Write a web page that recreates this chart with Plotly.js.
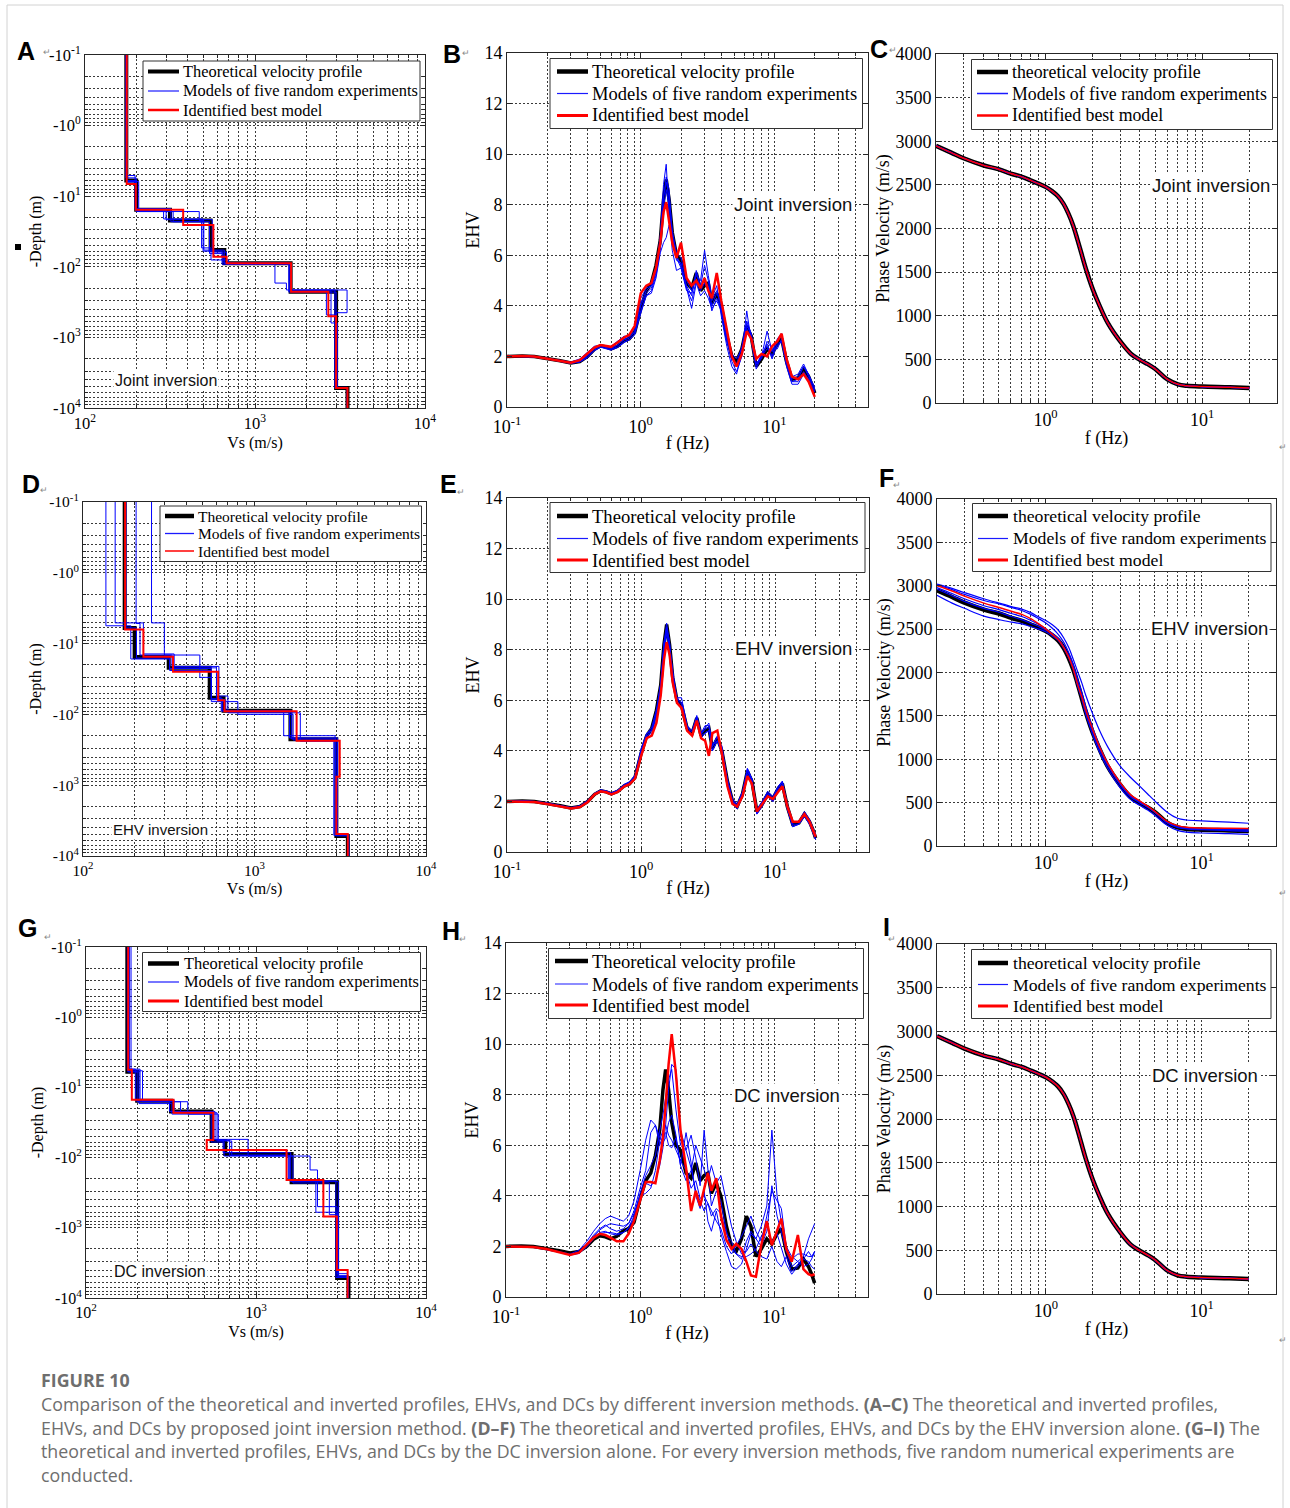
<!DOCTYPE html>
<html><head><meta charset="utf-8">
<script src="https://cdn.plot.ly/plotly-3.0.1.min.js"></script>
<style>html,body{margin:0;padding:0;background:#fff}#chart{width:1290px;height:1508px}</style>
</head><body><div id="chart"></div>
<script>
// ================= DATA =================
// Depth profiles: layer shear velocity (m/s) and interface depths (m)
const depthTop = 0.1, depthBottom = 10000;
const theoVs    = [175, 200, 316, 548, 660, 1620, 3000, 3500];
const theoDepth = [6, 15.5, 22, 58, 89, 225, 5200];

// (A) joint inversion
const jointBestVs    = [176, 199, 378, 569, 681, 1630, 2700, 3000, 3500];
const jointBestDepth = [6.7, 15.6, 25.6, 72, 89, 225, 500, 5200];
const jointModelVs = [
  [175, 197, 290, 495, 640, 1620, 3480, 3000, 3500],
  [176, 207, 330, 485, 551, 700, 1310, 1530, 2950, 3500],
  [174, 200, 470, 500, 660, 1640, 2630, 3000, 3500],
  [175, 201, 320, 540, 650, 1600, 2800, 3050, 3500],
  [176, 199, 300, 560, 680, 1580, 3000, 3480]
];
const jointModelDepth = [
  [5.1, 15.6, 21, 60, 92, 213, 447, 5200],
  [6.2, 16.5, 23, 54, 80, 92, 170, 213, 5200],
  [5.5, 16.5, 22, 58, 90, 225, 480, 5200],
  [6, 15, 23, 65, 88, 220, 625, 5200],
  [6.3, 15.8, 21.5, 62, 91, 228, 5100]
];
// (D) EHV inversion
const ehvBestVs    = [176, 225, 335, 614, 668, 1760, 3140, 3000, 3500];
const ehvBestDepth = [6.3, 15.3, 25, 63, 90, 236, 760, 4900];
const ehvModelVs = [
  [136, 190, 320, 560, 680, 1480, 2950, 3500],
  [154, 225, 340, 600, 640, 1600, 3050, 3500],
  [204, 215, 480, 560, 800, 1680, 2980, 3500],
  [251, 298, 330, 620, 700, 1850, 2900, 3550],
  [178, 205, 320, 560, 650, 1640, 2980, 3500]
];
const ehvModelDepth = [
  [5.6, 16.5, 24, 62, 92, 200, 5000],
  [5.1, 14, 22, 58, 90, 215, 4900],
  [5.2, 14.5, 30, 66, 100, 230, 4900],
  [5.1, 14.5, 21, 55, 95, 240, 5100],
  [6, 16, 22.5, 60, 88, 222, 5200]
];
// (G) DC inversion
const dcBestVs    = [177, 186, 327, 561, 513, 1513, 2490, 2990, 3460];
const dcBestDepth = [5.6, 15, 23, 56, 78, 209, 690, 4000];
const dcModelVs = [
  [180, 208, 330, 574, 640, 1600, 3050, 3500],
  [184, 215, 397, 560, 898, 2080, 2300, 3000, 3500],
  [176, 200, 360, 590, 720, 1550, 2250, 3000, 3450],
  [175, 195, 310, 545, 650, 1650, 2700, 3050, 3500],
  [178, 205, 320, 600, 700, 1580, 2950, 3480]
];
const dcModelDepth = [
  [5.5, 15, 22, 56, 85, 220, 5000],
  [5.8, 16, 24, 55, 95, 150, 500, 5000],
  [6, 16, 23, 58, 92, 210, 600, 4500],
  [5.5, 15.5, 22, 60, 95, 230, 650, 4800],
  [6, 17, 24, 57, 93, 215, 5100]
];

// EHV curves (frequency in Hz)
const ehvFreq = [0.10,0.13,0.16,0.20,0.25, 0.30,0.35,0.40,0.45,0.50, 0.55,0.60,0.67,0.75,0.82,
  0.90,1.00,1.10,1.20,1.30, 1.40,1.48,1.55,1.63,1.72, 1.85,2.00,2.20,2.40,2.60,
  2.80,3.00,3.20,3.40,3.70, 4.00,4.40,4.80,5.20,5.70, 6.20,6.70,7.30,8.00,8.80,
  9.60,10.5,11.3,12.3,13.5, 15.0,16.5,18.0,19.0,20.0];
const ehvTheo = [2.00,2.02,2.00,1.93,1.83, 1.74,1.80,2.00,2.28,2.42, 2.38,2.30,2.40,2.62,2.70,
  2.95,3.90,4.60,4.90,5.60, 6.60,8.20,9.00,8.20,6.90, 6.00,5.80,4.90,4.70,5.30,
  4.60,4.80,4.90,4.10,4.50, 4.00,2.80,2.00,1.80,2.30, 3.20,2.80,1.60,1.90,2.30,
  2.10,2.50,2.70,1.80,1.10, 1.15,1.50,1.20,0.90,0.55];
// (B) joint
const jointEhvBest = [2.00,2.02,2.00,1.92,1.82, 1.75,1.85,2.10,2.35,2.45, 2.40,2.38,2.55,2.75,2.85,
  3.20,4.50,4.80,4.90,5.50, 6.50,7.70,8.10,7.40,6.50, 5.90,6.50,5.10,4.80,5.00,
  4.70,5.10,4.60,4.30,5.30, 4.20,3.00,2.00,1.60,2.10, 3.00,2.70,1.90,2.10,2.00,
  2.40,2.60,2.90,1.90,1.20, 1.10,1.30,1.00,0.70,0.40];
const jointEhvModels = [
  [2.00,2.02,2.00,1.93,1.84, 1.78,1.90,2.15,2.40,2.45, 2.35,2.40,2.60,2.80,2.80, 3.10,4.30,4.70,4.80,5.40, 6.80,8.80,9.60,7.60,6.20, 5.40,5.50,4.60,4.50,5.20, 5.00,6.20,5.20,4.30,4.80, 3.60,2.40,1.60,1.30,2.10, 3.80,2.60,1.50,2.00,3.00, 2.20,2.40,2.60,1.70,1.00, 1.00,1.40,1.10,0.80,0.60],
  [2.00,2.00,1.98,1.90,1.80, 1.72,1.78,1.98,2.25,2.38, 2.30,2.25,2.35,2.55,2.65, 2.85,3.70,4.40,4.50,5.10, 6.10,6.50,6.70,7.20,6.80, 6.00,5.60,4.70,3.90,4.90, 4.40,4.60,4.30,3.90,4.20, 3.80,2.60,1.90,1.70,2.40, 3.40,2.90,1.70,2.00,2.50, 2.00,2.70,2.90,1.90,1.20, 1.30,1.70,1.30,1.00,0.70],
  [2.00,2.02,2.00,1.93,1.83, 1.74,1.82,2.05,2.30,2.42, 2.36,2.30,2.45,2.65,2.72, 2.95,4.00,4.50,4.70,5.30, 6.40,8.30,9.10,8.60,6.80, 5.80,5.70,4.80,4.40,5.40, 4.80,5.60,5.00,4.00,4.50, 4.10,2.70,1.80,1.40,2.00, 3.10,2.70,1.70,1.90,2.60, 2.30,2.30,2.70,1.80,1.00, 1.10,1.60,1.20,0.90,0.60],
  [2.00,2.00,1.98,1.91,1.81, 1.73,1.78,1.95,2.22,2.36, 2.32,2.28,2.38,2.58,2.66, 2.88,3.80,4.40,4.60,5.20, 6.20,7.90,8.60,7.90,6.70, 5.90,5.50,4.70,4.20,5.00, 4.60,4.90,4.60,3.80,4.30, 3.90,2.70,2.00,1.60,2.20, 3.30,2.80,1.60,2.10,2.40, 1.90,2.50,2.60,1.60,0.90, 0.90,1.30,1.10,0.80,0.70],
  [2.00,2.02,2.00,1.92,1.82, 1.74,1.80,2.02,2.30,2.43, 2.40,2.33,2.45,2.68,2.78, 3.00,4.10,4.60,4.80,5.50, 6.60,8.30,8.90,8.30,7.00, 6.10,5.90,5.00,4.60,5.30, 4.70,4.90,4.80,4.20,4.60, 4.00,2.90,2.10,1.90,2.30, 3.20,2.90,1.70,2.00,2.30, 2.20,2.60,2.80,1.90,1.10, 1.20,1.60,1.30,1.00,0.80]
];
// (E) EHV inversion
const ehvEhvBest = [2.00,2.00,1.98,1.90,1.80, 1.72,1.78,1.98,2.28,2.40, 2.36,2.28,2.38,2.60,2.68,
  2.90,3.80,4.50,4.60,5.10, 6.20,7.60,8.30,7.80,6.70, 5.90,5.70,4.80,4.60,5.20,
  4.50,4.40,3.80,4.70,4.80, 3.90,2.60,1.90,1.80,2.20, 3.00,2.70,1.60,1.90,2.20,
  2.10,2.40,2.60,1.80,1.20, 1.20,1.50,1.20,0.90,0.60];
const ehvEhvModels = [
  [2.00,2.02,2.00,1.93,1.83, 1.74,1.82,2.03,2.32,2.45, 2.40,2.33,2.45,2.68,2.78, 3.00,4.00,4.60,4.70,5.40, 6.60,8.10,8.90,8.30,7.00, 6.10,5.90,5.00,4.60,5.30, 4.70,4.90,5.10,4.20,4.40, 4.20,2.80,2.00,1.80,2.30, 3.30,2.90,1.60,2.00,2.30, 2.10,2.50,2.80,1.80,1.10, 1.10,1.50,1.20,0.90,0.60],
  [2.00,2.00,1.99,1.92,1.82, 1.73,1.80,2.00,2.28,2.40, 2.36,2.28,2.40,2.60,2.70, 2.95,3.90,4.50,4.60,5.20, 6.40,8.00,8.60,8.10,7.20, 6.00,5.70,4.80,4.60,5.20, 4.60,4.70,4.80,4.00,4.40, 4.00,2.70,1.90,1.80,2.30, 3.20,2.80,1.50,1.90,2.20, 2.00,2.40,2.70,1.70,1.00, 1.10,1.40,1.10,0.80,0.50],
  [2.00,2.02,2.00,1.94,1.84, 1.76,1.83,2.05,2.33,2.46, 2.42,2.34,2.45,2.66,2.76, 3.05,4.10,4.70,4.80,5.50, 6.70,8.30,8.80,8.00,6.80, 6.10,6.10,5.00,4.80,5.40, 4.70,5.00,5.00,4.20,4.60, 4.10,2.90,2.10,1.90,2.40, 3.30,2.90,1.70,2.00,2.40, 2.20,2.60,2.80,1.90,1.20, 1.20,1.60,1.30,1.00,0.70],
  [2.00,2.01,1.99,1.92,1.82, 1.73,1.79,1.99,2.26,2.40, 2.37,2.29,2.38,2.60,2.69, 2.92,3.85,4.55,4.85,5.55, 6.50,8.10,8.70,8.10,6.80, 5.90,5.70,4.80,4.60,5.20, 4.50,4.70,4.80,4.00,4.40, 3.90,2.70,1.90,1.70,2.20, 3.10,2.70,1.50,1.80,2.20, 2.00,2.40,2.60,1.70,1.00, 1.10,1.40,1.10,0.80,0.50],
  [2.00,2.02,2.00,1.93,1.83, 1.75,1.81,2.01,2.29,2.43, 2.39,2.31,2.41,2.63,2.71, 2.97,3.95,4.65,4.95,5.65, 6.65,8.25,9.05,8.25,6.95, 6.05,5.85,4.95,4.75,5.35, 4.65,4.85,4.95,4.15,4.55, 4.05,2.85,2.05,1.85,2.35, 3.25,2.85,1.65,1.95,2.35, 2.15,2.55,2.75,1.85,1.15, 1.20,1.55,1.25,0.95,0.60]
];
// (H) DC inversion
const dcEhvBest = [2.00,2.00,1.98,1.90,1.78, 1.66,1.75,2.05,2.35,2.50, 2.45,2.35,2.20,2.20,2.50,
  3.00,3.80,4.55,4.55,4.50, 5.40,6.30,7.60,9.20,10.40, 8.80,6.60,5.10,3.40,4.20,
  3.60,4.30,4.90,4.20,4.70, 3.20,2.25,1.90,2.10,1.90, 1.40,0.85,0.80,2.05,3.00,
  2.05,2.60,3.10,1.90,1.40, 2.45,1.10,0.90,0.85,0.90];
const dcEhvModels = [
  [2.00,2.00,1.98,1.90,1.80, 1.70,1.85,2.20,2.60,2.90, 3.10,3.20,3.10,3.00,3.20, 3.80,5.00,6.20,7.00,6.80, 6.00,6.40,6.50,6.00,5.90, 6.30,5.20,6.50,5.30,4.00, 3.50,4.20,3.00,2.60,3.40, 2.50,1.80,1.20,1.10,1.30, 1.90,2.50,2.30,2.80,3.60, 6.60,4.00,3.00,1.80,1.20, 1.40,1.60,2.30,2.60,2.90],
  [2.00,2.00,1.97,1.88,1.77, 1.66,1.72,1.98,2.30,2.50, 2.55,2.55,2.50,2.55,2.70, 3.10,3.90,4.50,4.40,4.60, 5.20,5.90,6.80,8.20,9.20, 9.00,6.60,5.80,6.40,5.50, 4.40,6.60,5.00,3.60,4.20, 3.80,2.60,1.90,1.70,1.60, 1.60,1.70,1.90,2.40,2.80, 2.20,2.50,1.90,1.30,0.90, 1.20,1.50,1.40,1.20,1.10],
  [2.00,2.00,1.98,1.90,1.79, 1.68,1.76,2.05,2.40,2.65, 2.80,2.90,2.85,2.80,2.90, 3.30,4.00,4.10,4.30,5.00, 6.20,6.60,6.80,6.40,6.20, 5.80,5.40,5.00,4.30,4.60, 3.90,4.00,3.70,3.20,3.50, 3.30,2.50,2.20,1.70,1.50, 2.20,2.60,2.30,2.00,2.60, 4.40,3.20,2.50,1.80,1.50, 1.70,1.70,1.60,1.60,1.80],
  [2.00,2.00,1.98,1.90,1.78, 1.68,1.78,2.10,2.45,2.70, 2.85,2.70,2.60,2.70,2.90, 3.40,4.30,5.00,6.50,6.80, 6.30,6.10,6.30,6.90,7.20, 6.40,5.20,4.60,5.00,6.00, 5.50,5.00,4.60,5.20,4.50, 4.80,3.80,2.80,2.20,1.70, 1.80,2.10,1.80,1.60,1.50, 2.00,1.40,1.20,1.60,1.00, 1.30,1.50,1.80,1.60,1.70],
  [2.00,2.00,1.97,1.89,1.77, 1.67,1.74,2.02,2.35,2.55, 2.60,2.50,2.45,2.55,2.75, 3.20,4.10,4.80,5.20,5.60, 6.60,7.20,7.90,8.60,9.00, 7.40,6.00,5.80,5.10,4.20, 3.80,3.40,3.70,3.40,3.00, 2.70,2.00,1.70,2.00,2.40, 2.80,3.20,2.60,2.20,3.20, 4.20,3.80,3.50,2.00,1.60, 1.40,1.20,1.30,1.50,1.80]
];

// Dispersion curves (phase velocity, m/s)
const dcFreq = [0.2,0.25,0.3,0.4,0.5, 0.6,0.7,0.8,0.9,1.0, 1.1,1.2,1.3,1.4,1.5, 1.6,1.7,1.8,2.0,2.2,
  2.5,3.0,3.5,4.0,4.5, 5.0,6.0,7.0,8.0,10, 15,20];
const dcTheo = [2947,2870,2805,2725,2680, 2630,2595,2553,2515,2477, 2428,2370,2285,2170,2035,
  1870,1705,1550,1305,1125, 915,705,565,495,445, 392,270,214,197,188, 180,172];
// (C) joint and (I) DC inversion: all inverted curves coincide with the theoretical one
const jointDcBest = dcTheo;
const jointDcModels = [dcTheo, dcTheo, dcTheo, dcTheo, dcTheo];
const dcDcBest = dcTheo;
const dcDcModels = [dcTheo, dcTheo, dcTheo, dcTheo, dcTheo];
// (F) EHV inversion
const ehvDcBest = [3000,2940,2880,2800,2750, 2705,2670,2620,2560,2500, 2440,2380,2290,2180,2040,
  1860,1720,1570,1340,1150, 950,730,590,520,460, 400,285,235,215,208, 205,203];
const ehvDcModels = [
  [3020,2970,2920,2850,2800, 2760,2730,2690,2640,2600, 2550,2490,2400,2290,2150, 2010,1880,1740,1520,1340, 1140,920,790,690,600, 520,390,320,300,290, 275,262],
  [3010,2955,2900,2830,2790, 2750,2715,2670,2620,2570, 2510,2440,2350,2230,2090, 1920,1770,1610,1360,1160, 950,720,580,510,450, 390,270,220,205,195, 188,182],
  [2890,2800,2740,2650,2610, 2580,2560,2530,2500,2470, 2420,2370,2280,2170,2030, 1840,1690,1520,1280,1090, 890,670,535,470,415, 355,240,180,160,150, 142,135],
  [2960,2885,2820,2740,2695, 2645,2610,2568,2530,2490, 2440,2388,2295,2180,2050, 1860,1715,1555,1315,1125, 925,705,565,500,445, 390,265,214,198,188, 178,168],
  [2980,2910,2850,2770,2725, 2680,2645,2600,2555,2505, 2450,2395,2300,2190,2060, 1875,1730,1575,1330,1140, 935,712,570,505,450, 395,270,220,205,195, 190,185]
];

// Legend labels
const legendTheoUpper = 'Theoretical velocity profile';
const legendTheoLower = 'theoretical velocity profile';
const legendModels = 'Models of five random experiments';
const legendBest = 'Identified best model';

// ================= LAYOUT / DRAWING =================
const W = 1290, H = 1508;
const px = x => x / W;
const py = y => 1 - y / H;
const SERIF = 'Liberation Serif, Times New Roman, serif';
const SANS = 'Liberation Sans, Arial, sans-serif';

function stepXY(vs, depth) {
  return { x: vs.concat([vs[vs.length - 1]]), y: [depthTop].concat(depth, [depthBottom]) };
}
function decadeMinors(lo, hi) { // 2..9 x 10^k grid positions
  const out = [];
  for (let k = lo; k < hi; k++) for (let m = 2; m <= 9; m++) out.push(+(m * Math.pow(10, k)).toPrecision(3));
  return out;
}

// box: plot area [x0,x1,y0,y1]; lg: legend {box, rows, line, tx, fs, w}
const panelCfg = [
  {kind:'prof', box:[85,425,55,408], tfs:16.5, letter:'A', lxy:[26,51], tag:'Joint inversion', txy:[166,380], tfont:16,
   lg:{box:[143,420,61,121], rows:[71.5,91,110], line:[148,179], tx:181, fs:16.4, w:[4,1.2,2.5]}},
  {kind:'ehv', box:[507,868,53,407], tfs:18, letter:'B', lxy:[452,54], tag:'Joint inversion', txy:[793,204], tfont:18.5,
   lg:{box:[550,862.5,58.5,128.5], rows:[71.5,93.5,115.5], line:[557,588], tx:590, fs:18.5, w:[4.5,1.2,3]}},
  {kind:'dc', box:[936,1277,54,403], tfs:18, letter:'C', lxy:[879,49], tag:'Joint inversion', txy:[1211,185], tfont:18.5,
   lg:{box:[971.5,1272.5,59.5,129.5], rows:[72,93.5,115.5], line:[977,1008], tx:1010, fs:17.8, w:[4.5,1.5,2.5]}},
  {kind:'prof', box:[83,426,502,856], tfs:15.5, letter:'D', lxy:[31,484], tag:'EHV inversion', txy:[160,829], tfont:15,
   lg:{box:[160,421.5,506,561.5], rows:[516,533.5,551], line:[165,194], tx:196, fs:15.5, w:[4.5,1.3,1.5]}},
  {kind:'ehv', box:[507,869,498,852], tfs:18, letter:'E', lxy:[448,484], tag:'EHV inversion', txy:[793,649], tfont:18.5,
   lg:{box:[550,865,502.5,572.5], rows:[516,538.5,560], line:[557,588], tx:590, fs:18.6, w:[4.5,1.2,3]}},
  {kind:'dc', box:[937,1276,499,846], tfs:18, letter:'F', lxy:[887,478], tag:'EHV inversion', txy:[1209,628], tfont:18.5,
   lg:{box:[972.5,1271,503.5,571.5], rows:[516,538.5,560], line:[978,1008], tx:1010.5, fs:17.7, w:[4.5,1.2,3]}},
  {kind:'prof', box:[86,426,947,1298], tfs:16, letter:'G', lxy:[27,928], tag:'DC inversion', txy:[160,1271], tfont:16,
   lg:{box:[142.5,420.5,952.5,1011.5], rows:[963.5,982,1001], line:[148,179], tx:181.5, fs:16.4, w:[4.5,1.2,3]}},
  {kind:'ehv', box:[506,868,943,1297], tfs:18, letter:'H', lxy:[451,931], tag:'DC inversion', txy:[787,1095], tfont:18.5,
   lg:{box:[548.5,863.5,948.5,1018.5], rows:[961,984,1005], line:[555,588], tx:589.5, fs:18.6, w:[4.5,1.2,3]}},
  {kind:'dc', box:[937,1276,944,1294], tfs:18, letter:'I', lxy:[886,927], tag:'DC inversion', txy:[1205,1075], tfont:18.5,
   lg:{box:[971.5,1271,949.5,1018.5], rows:[963,984.5,1006], line:[978,1008], tx:1010.5, fs:17.7, w:[4.5,1.2,3]}}
];

const panelData = [
  {theo: stepXY(theoVs, theoDepth), models: jointModelVs.map((v,k)=>stepXY(v, jointModelDepth[k])), best: stepXY(jointBestVs, jointBestDepth)},
  {theo: {x:ehvFreq, y:ehvTheo}, models: jointEhvModels.map(m=>({x:ehvFreq, y:m})), best: {x:ehvFreq, y:jointEhvBest}},
  {theo: {x:dcFreq, y:dcTheo}, models: jointDcModels.map(m=>({x:dcFreq, y:m})), best: {x:dcFreq, y:jointDcBest}},
  {theo: stepXY(theoVs, theoDepth), models: ehvModelVs.map((v,k)=>stepXY(v, ehvModelDepth[k])), best: stepXY(ehvBestVs, ehvBestDepth)},
  {theo: {x:ehvFreq, y:ehvTheo}, models: ehvEhvModels.map(m=>({x:ehvFreq, y:m})), best: {x:ehvFreq, y:ehvEhvBest}},
  {theo: {x:dcFreq, y:dcTheo}, models: ehvDcModels.map(m=>({x:dcFreq, y:m})), best: {x:dcFreq, y:ehvDcBest}},
  {theo: stepXY(theoVs, theoDepth), models: dcModelVs.map((v,k)=>stepXY(v, dcModelDepth[k])), best: stepXY(dcBestVs, dcBestDepth)},
  {theo: {x:ehvFreq, y:ehvTheo}, models: dcEhvModels.map(m=>({x:ehvFreq, y:m})), best: {x:ehvFreq, y:dcEhvBest}},
  {theo: {x:dcFreq, y:dcTheo}, models: dcDcModels.map(m=>({x:dcFreq, y:m})), best: {x:dcFreq, y:dcDcBest}}
];

const styles = {
  prof: {shape:'vh',     theoW:4,   modelW:1,   bestW:2},
  ehv:  {shape:'linear', theoW:3.5, modelW:1,   bestW:2.5},
  dc:   {shape:'spline', theoW:4.5, modelW:1.2, bestW:1.5}
};

const gridCol = '#3a3a3a', frameCol = '#262626';
const axisBase = {showline:true, mirror:'allticks', linecolor:frameCol, linewidth:1,
  ticks:'inside', ticklen:5, tickwidth:1, tickcolor:frameCol,
  showgrid:true, gridcolor:gridCol, gridwidth:1, griddash:'2px,2px', zeroline:false, fixedrange:true};
function minorOf(vals){ return {tickvals:vals, ticks:'inside', ticklen:3, tickcolor:frameCol,
  showgrid:true, gridcolor:gridCol, gridwidth:1, griddash:'2px,2px'}; }
const sup = (b,e) => b + '<sup>' + e + '</sup>';

const traces = [];
const layout = {width:W, height:H, margin:{l:0,r:0,t:0,b:0}, paper_bgcolor:'#fff', plot_bgcolor:'#fff',
  showlegend:false, hovermode:false, annotations:[], shapes:[]};

panelCfg.forEach((c, i) => {
  const n = i + 1;
  const xa = n === 1 ? 'x' : 'x' + n, ya = n === 1 ? 'y' : 'y' + n;
  const st = styles[c.kind], d = panelData[i];
  const theoName = c.kind === 'dc' ? legendTheoLower : legendTheoUpper;
  const common = {mode:'lines', xaxis:xa, yaxis:ya, hoverinfo:'skip', showlegend:false};
  traces.push(Object.assign({}, common, {x:d.theo.x, y:d.theo.y, name:theoName,
    line:{color:'#000', width:st.theoW, shape:st.shape}}));
  d.models.forEach((m) => traces.push(Object.assign({}, common, {x:m.x, y:m.y, name:legendModels,
    line:{color:'#0000ff', width:st.modelW, shape:st.shape}})));
  traces.push(Object.assign({}, common, {x:d.best.x, y:d.best.y, name:legendBest,
    line:{color:'#ff0000', width:st.bestW, shape:st.shape}}));

  const [x0, x1, y0, y1] = c.box;
  const small = c.kind === 'prof';
  const tickfont = {family:SERIF, size:c.tfs, color:'#000'};
  const titlefont = {family:SERIF, size: small ? 16 : 18, color:'#000'};
  let xax, yax;
  if (c.kind === 'prof') {
    xax = {type:'log', range:[2,4], tickvals:[100,1000,10000], ticktext:[sup('10',2),sup('10',3),sup('10',4)],
      minor:minorOf(decadeMinors(2,4)), title:{text:'Vs (m/s)', font:titlefont, standoff:5}};
    yax = {type:'log', range:[4,-1], tickvals:[0.1,1,10,100,1000,10000],
      ticktext:[sup('-10','-1'),sup('-10','0'),sup('-10','1'),sup('-10','2'),sup('-10','3'),sup('-10','4')],
      minor:minorOf(decadeMinors(-1,4)), title:{text:'-Depth (m)', font:titlefont, standoff:3}};
  } else if (c.kind === 'ehv') {
    xax = {type:'log', range:[-1, Math.log10(50)], tickvals:[0.1,1,10], ticktext:[sup('10','-1'),sup('10','0'),sup('10','1')],
      ticklabelstandoff:3,
      minor:minorOf(decadeMinors(-1,1).concat([20,30,40])), title:{text:'f (Hz)', font:titlefont, standoff:0}};
    yax = {range:[0,14], tick0:0, dtick:2, title:{text:'EHV', font:titlefont, standoff:0}};
  } else {
    xax = {type:'log', range:[Math.log10(0.2), Math.log10(30)], tickvals:[1,10], ticktext:[sup('10','0'),sup('10','1')],
      minor:minorOf(decadeMinors(-1,1).filter(v=>v>0.25).concat([20])), title:{text:'f (Hz)', font:titlefont, standoff:2}};
    yax = {range:[0,4000], tick0:0, dtick:500, title:{text:'Phase Velocity (m/s)', font:titlefont, standoff:1}};
  }
  layout['xaxis' + (n === 1 ? '' : n)] = Object.assign({}, axisBase, xax, {domain:[px(x0), px(x1)], anchor:ya, tickfont:tickfont});
  layout['yaxis' + (n === 1 ? '' : n)] = Object.assign({}, axisBase, yax, {domain:[py(y1), py(y0)], anchor:xa, tickfont:tickfont});

  // legend box (drawn as shapes + text, matching the original MATLAB legend)
  const L = c.lg;
  layout.shapes.push({type:'rect', xref:'paper', yref:'paper', x0:px(L.box[0]), x1:px(L.box[1]), y0:py(L.box[3]), y1:py(L.box[2]),
    line:{color:'#333', width:1}, fillcolor:'#fff', layer:'above'});
  const legItems = [[theoName, '#000', L.w[0]], [legendModels, '#1a1aff', L.w[1]], [legendBest, '#ff0000', L.w[2]]];
  legItems.forEach(([txt, col, wd], k) => {
    layout.shapes.push({type:'line', xref:'paper', yref:'paper', x0:px(L.line[0]), x1:px(L.line[1]), y0:py(L.rows[k]), y1:py(L.rows[k]),
      line:{color:col, width:wd}, layer:'above'});
    layout.annotations.push({xref:'paper', yref:'paper', x:px(L.tx), y:py(L.rows[k]), text:txt, showarrow:false,
      xanchor:'left', yanchor:'middle', font:{family:SERIF, size:L.fs, color:'#000'}});
  });

  layout.annotations.push({xref:'paper', yref:'paper', x:px(c.txy[0]), y:py(c.txy[1]), text:c.tag, showarrow:false,
    xanchor:'center', yanchor:'middle', bgcolor:'#fff', borderpad:1, font:{family:SANS, size:c.tfont, color:'#111'}});
  layout.annotations.push({xref:'paper', yref:'paper', x:px(c.lxy[0]), y:py(c.lxy[1]), text:'<b>' + c.letter + '</b>',
    showarrow:false, xanchor:'center', yanchor:'middle', font:{family:SANS, size:25, color:'#000'}});
});

// Word paragraph marks visible in the figure
[[47,52],[466,53],[893,50],[44,490],[461,492],[897,485],[48,937],[463,939],[892,939],[1283,447],[1283,893],[1283,1340]]
  .forEach(p => layout.annotations.push({xref:'paper', yref:'paper', x:px(p[0]), y:py(p[1]), text:'↵', showarrow:false,
    xanchor:'center', yanchor:'middle', font:{family:SANS, size:9, color:'#8a8a8a'}}));

// Caption
const capFont = {family:'Open Sans, Noto Sans, sans-serif', size:17.8, color:'#6e6e6e'};
const caption = [
  ['<b>FIGURE 10</b>', 1380],
  ['Comparison of the theoretical and inverted profiles, EHVs, and DCs by different inversion methods. <b>(A–C)</b> The theoretical and inverted profiles,', 1404],
  ['EHVs, and DCs by proposed joint inversion method. <b>(D–F)</b> The theoretical and inverted profiles, EHVs, and DCs by the EHV inversion alone. <b>(G–I)</b> The', 1428],
  ['theoretical and inverted profiles, EHVs, and DCs by the DC inversion alone. For every inversion methods, five random numerical experiments are', 1451],
  ['conducted.', 1475]
];
caption.forEach(([t, y]) => layout.annotations.push({xref:'paper', yref:'paper', x:px(39), y:py(y), text:t,
  showarrow:false, xanchor:'left', yanchor:'middle', font:capFont}));

// outer frame and small marker
layout.shapes.push({type:'rect', xref:'paper', yref:'paper', x0:px(7), x1:px(1283), y0:py(1540), y1:py(5),
  line:{color:'#d2d2d2', width:1}, fillcolor:'rgba(0,0,0,0)', layer:'below'});
layout.shapes.push({type:'rect', xref:'paper', yref:'paper', x0:px(15), x1:px(21), y0:py(250), y1:py(244),
  line:{width:0}, fillcolor:'#000'});

Plotly.newPlot('chart', traces, layout, {staticPlot:true, displayModeBar:false});
</script>
</body></html>
